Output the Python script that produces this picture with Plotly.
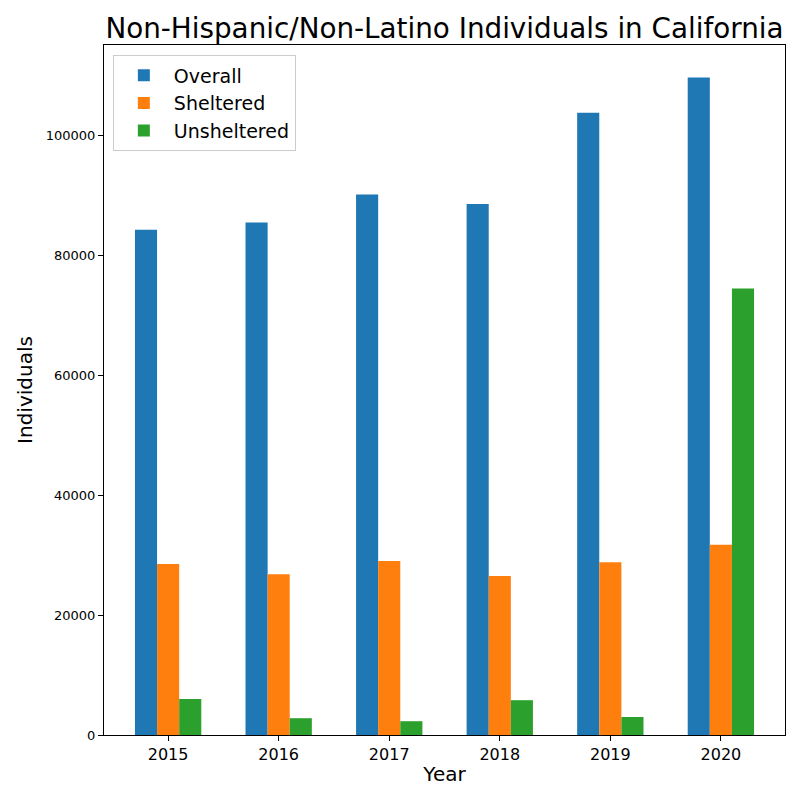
import plotly.graph_objects as go

years = ["2015", "2016", "2017", "2018", "2019", "2020"]
overall = [84200, 85400, 90100, 88500, 103700, 109600]
sheltered = [28500, 26800, 29000, 26500, 28800, 31700]
unsheltered = [6000, 2800, 2300, 5800, 3000, 74400]

series = [("Overall", overall, "#1f77b4"),
          ("Sheltered", sheltered, "#ff7f0e"),
          ("Unsheltered", unsheltered, "#2ca02c")]

fig = go.Figure()
for name, vals, color in series:
    fig.add_trace(go.Bar(x=years, y=vals, name=name, marker=dict(color=color, line=dict(width=0))))

fig.update_layout(
    width=800, height=800,
    paper_bgcolor="white", plot_bgcolor="white",
    font=dict(family="DejaVu Sans", color="black"),
    margin=dict(l=104, r=15, t=45, b=65),
    barmode="group", bargap=0.4, bargroupgap=0,
    title=dict(text="Non-Hispanic/Non-Latino Individuals in California",
               font=dict(size=27.8), x=(104 + 785) / 2 / 800, xanchor="center",
               y=1 - 28 / 800, yanchor="middle"),
    legend=dict(x=0.013, y=0.985, xanchor="left", yanchor="top",
                bgcolor="rgba(255,255,255,0.8)", bordercolor="#cccccc", borderwidth=1,
                font=dict(size=19), itemwidth=50, tracegroupgap=0),
    xaxis=dict(type="category", range=[-0.58, 5.58], showline=True, linecolor="black",
               linewidth=1, mirror=True, ticks="outside", ticklen=5, tickcolor="black",
               tickfont=dict(size=16), title=dict(text="Year", font=dict(size=20), standoff=3),
               showgrid=False),
    yaxis=dict(range=[0, 115000], showline=True, linecolor="black", linewidth=1, mirror=True,
               ticks="outside", ticklen=5, tickcolor="black", tickformat="d", dtick=20000,
               tickfont=dict(size=13), title=dict(text="Individuals", font=dict(size=20), standoff=7),
               showgrid=False, zeroline=False),
)

fig.write_html("out.html")
